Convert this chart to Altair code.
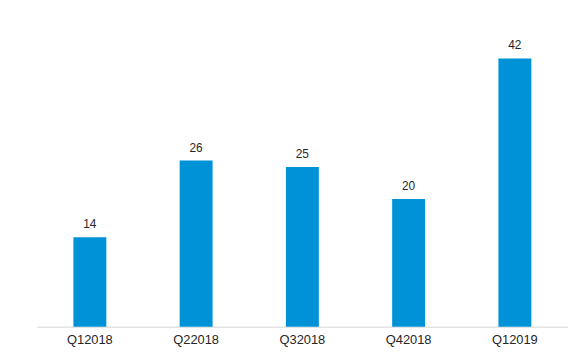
import altair as alt
import pandas as pd

quarters = ["Q12018", "Q22018", "Q32018", "Q42018", "Q12019"]
values = [14, 26, 25, 20, 42]

df = pd.DataFrame({"quarter": quarters, "value": values})

base = alt.Chart(df).encode(
    x=alt.X("quarter:N", sort=quarters,
            scale=alt.Scale(paddingInner=0.69, paddingOuter=0.345),
            axis=alt.Axis(title=None, labelAngle=0, ticks=False, labelPadding=7,
                          labelFont="Liberation Sans", labelFontSize=13,
                          labelColor="#262626", domainColor="#e3e3e3", domainWidth=1.5,
                          grid=False)),
    y=alt.Y("value:Q", scale=alt.Scale(domain=[0, 45]), axis=None),
)

bars = base.mark_bar(color="#0092d6")
text = base.mark_text(dy=-6, baseline="bottom", font="Liberation Sans", fontSize=12,
                      color="#262626").encode(text="value:Q")

chart = (bars + text).properties(
    width=536, height=290,
    autosize=alt.AutoSizeParams(type="none"),
    padding={"left": 29, "top": 30, "right": 0, "bottom": 22},
).configure_view(stroke=None)

chart.save("out.html", embed_options={"renderer": "svg", "actions": False})
